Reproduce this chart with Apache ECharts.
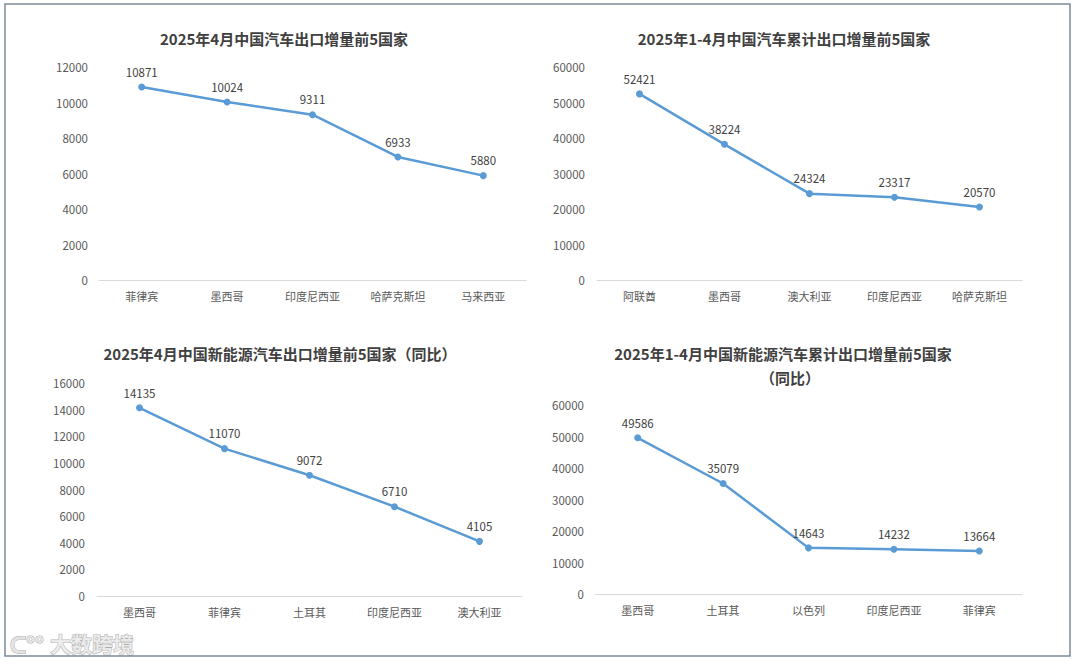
<!DOCTYPE html>
<html>
<head>
<meta charset="utf-8">
<script src="https://cdn.jsdelivr.net/npm/echarts@6/dist/echarts.min.js"></script>
<style>
html,body{margin:0;padding:0;background:#fff;}
#main{width:1080px;height:664px;}
</style>
</head>
<body>
<div id="main"></div>
<script>
// ---- data ----
var titles1 = ['2025年4月中国汽车出口增量前5国家'];
var cats1 = ['菲律宾', '墨西哥', '印度尼西亚', '哈萨克斯坦', '马来西亚'];
var vals1 = [10871, 10024, 9311, 6933, 5880];

var titles2 = ['2025年1-4月中国汽车累计出口增量前5国家'];
var cats2 = ['阿联酋', '墨西哥', '澳大利亚', '印度尼西亚', '哈萨克斯坦'];
var vals2 = [52421, 38224, 24324, 23317, 20570];

var titles3 = ['2025年4月中国新能源汽车出口增量前5国家（同比）'];
var cats3 = ['墨西哥', '菲律宾', '土耳其', '印度尼西亚', '澳大利亚'];
var vals3 = [14135, 11070, 9072, 6710, 4105];

var titles4 = ['2025年1-4月中国新能源汽车累计出口增量前5国家', '（同比）'];
var cats4 = ['墨西哥', '土耳其', '以色列', '印度尼西亚', '菲律宾'];
var vals4 = [49586, 35079, 14643, 14232, 13664];

var yMax = [12000, 60000, 16000, 60000];
var yStep = [2000, 10000, 2000, 10000];

// ---- layout ----
var grids = [
  {left: 99, width: 427, top: 67, height: 213},
  {left: 597, width: 425, top: 67, height: 213},
  {left: 97, width: 425, top: 383, height: 213},
  {left: 595, width: 427, top: 405, height: 189}
];
var labelMargins = [11, 12, 12, 11];
var cats = [cats1, cats2, cats3, cats4];
var vals = [vals1, vals2, vals3, vals4];

var font = '"Noto Sans CJK SC", "Noto Sans", sans-serif';
var lineColor = '#5B9BD5';

var xAxes = [], yAxes = [], series = [];
for (var i = 0; i < 4; i++) {
  xAxes.push({
    type: 'category', gridIndex: i, data: cats[i],
    axisLine: {lineStyle: {color: '#d9d9d9', width: 1}},
    axisTick: {show: false},
    axisLabel: {color: '#595959', fontSize: 11, fontFamily: font, margin: 10, interval: 0}
  });
  yAxes.push({
    type: 'value', gridIndex: i, min: 0, max: yMax[i], interval: yStep[i],
    axisLine: {show: false}, axisTick: {show: false}, splitLine: {show: false},
    axisLabel: {color: '#595959', fontSize: 11.5, fontFamily: font, margin: labelMargins[i],
      formatter: function (v) { return String(v); }}
  });
  series.push({
    type: 'line', xAxisIndex: i, yAxisIndex: i, data: vals[i],
    symbol: 'circle', symbolSize: 7,
    lineStyle: {color: lineColor, width: 2.5},
    itemStyle: {color: lineColor},
    label: {show: true, position: 'top', distance: 6, color: '#404040', fontSize: 11.5, fontFamily: font},
    animation: false
  });
}

function titleText(x, y, txt) {
  return {type: 'text', x: x, y: y, silent: true,
    style: {text: txt, fill: '#404040', font: 'bold 15px ' + font, textAlign: 'center', textVerticalAlign: 'middle'}};
}

var graphics = [
  {type: 'rect', shape: {x: 5, y: 4, width: 1065, height: 652}, silent: true,
   style: {fill: 'none', stroke: '#7d8b99', lineWidth: 1.5}},
  titleText(284, 38, titles1[0]),
  titleText(784, 38, titles2[0]),
  titleText(280, 353, titles3[0]),
  titleText(783, 353, titles4[0]),
  titleText(790, 377, titles4[1]),
  {type: 'text', x: 50, y: 643, silent: true,
   style: {text: '大数跨境', fill: 'rgba(235,235,235,0.9)', stroke: 'rgba(120,120,120,0.6)', lineWidth: 1,
           font: 'bold 21px ' + font, textVerticalAlign: 'middle'}},
  {type: 'text', x: 10, y: 643, silent: true,
   style: {text: 'ᑕ°°', fill: 'rgba(235,235,235,0.9)', stroke: 'rgba(120,120,120,0.6)', lineWidth: 1,
           font: 'bold 22px ' + font, textVerticalAlign: 'middle'}}
];

var chart = echarts.init(document.getElementById('main'), null, {renderer: 'svg'});
chart.setOption({
  backgroundColor: '#ffffff',
  animation: false,
  grid: grids,
  xAxis: xAxes,
  yAxis: yAxes,
  series: series,
  graphic: graphics
});
</script>
</body>
</html>
